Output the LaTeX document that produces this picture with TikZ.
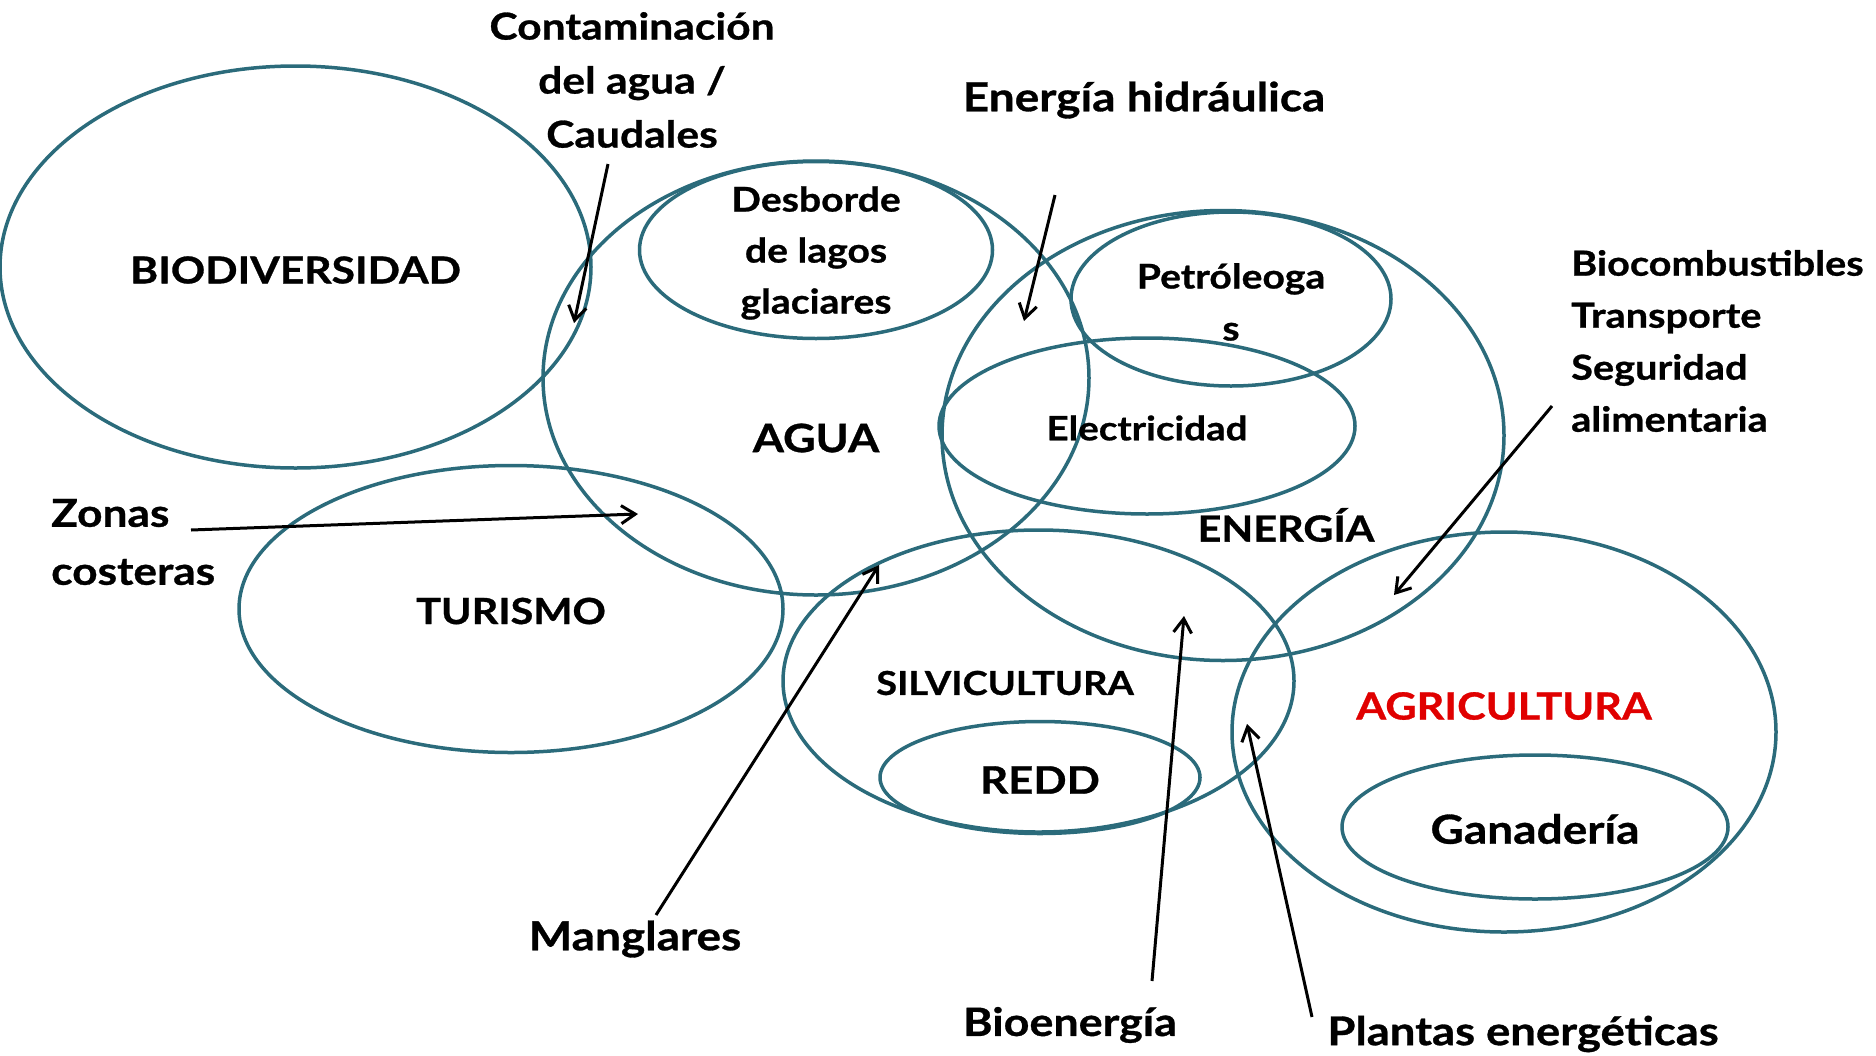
\documentclass[tikz,border=0pt]{standalone}
\usepackage{fontspec}
\setmainfont{Lato}[FakeStretch=1.15,BoldFeatures={FakeBold=0.8}]
\usetikzlibrary{shapes.geometric,arrows.meta}
\definecolor{teal1}{HTML}{2B6B7B}
\definecolor{red1}{HTML}{E00000}
\tikzset{
  ell/.style={draw=teal1,line width=3.5pt,ellipse,inner sep=0pt},
  lbl/.style={font=\bfseries\fontsize{34}{51}\selectfont,inner sep=0pt,align=center},
  big/.style={font=\bfseries\fontsize{36}{54}\selectfont,inner sep=0pt,align=center},
  low/.style={font=\bfseries\fontsize{39}{54}\selectfont,inner sep=0pt,align=center},
  arr/.style={draw=black,line width=3pt,-{Straight Barb[length=14pt,width=18pt,line width=3pt]}}
}
\begin{document}
\begin{tikzpicture}[x=1pt,y=-1pt]
\useasboundingbox (0,0) rectangle (1876,1055);
% ellipses
\node[ell,minimum width=591pt,minimum height=402pt] (bio) at (295.5,267) {};
\node[ell,minimum width=546pt,minimum height=434pt] (agua) at (816,378) {};
\node[ell,minimum width=353pt,minimum height=177pt] (desb) at (816,250) {};
\node[ell,minimum width=544pt,minimum height=287pt] (tur) at (511,609) {};
\node[ell,minimum width=562pt,minimum height=450pt] (ener) at (1223,435.5) {};
\node[ell,minimum width=320pt,minimum height=174pt] (petro) at (1231,299) {};
\node[ell,minimum width=416pt,minimum height=176pt] (elec) at (1147,426) {};
\node[ell,minimum width=511pt,minimum height=302pt] (silv) at (1038.5,681) {};
\node[ell,minimum width=320pt,minimum height=112pt] (redd) at (1040,777.5) {};
\node[ell,minimum width=544pt,minimum height=400pt] (agri) at (1504,732) {};
\node[ell,minimum width=386pt,minimum height=144pt] (gan) at (1535,827) {};
% texts
\node[big,font=\bfseries\fontsize{37}{54}\selectfont] (tbio) at (295.5,270) {BIODIVERSIDAD};
\node[big,font=\bfseries\fontsize{39}{54}\selectfont] (tagua) at (816,438) {AGUA};
\node[big] (ttur) at (511,611) {TURISMO};
\node[big] (tener) at (1286,525) {ENERGÍA};
\node[lbl,font=\bfseries\fontsize{33}{51}\selectfont] (tsilv) at (1005,683) {SILVICULTURA};
\node[big,font=\bfseries\fontsize{38}{54}\selectfont] (tredd) at (1040,780) {REDD};
\node[big,text=red1,font=\bfseries\fontsize{37.5}{54}\selectfont] (tagri) at (1504,706) {AGRICULTURA};
\node[low,font=\bfseries\fontsize{40}{54}\selectfont] (tgan) at (1535,829) {Ganadería};
\node[lbl] (tdesb) at (816,253) {Desborde\\de lagos\\glaciares};
\node[lbl,font=\bfseries\fontsize{34}{52}\selectfont] (tpetro) at (1231,302) {Petróleoga\\s};
\node[lbl,font=\bfseries\fontsize{33.5}{52}\selectfont] (telec) at (1147,428) {Electricidad};
\node[low,font=\bfseries\fontsize{37}{54}\selectfont] (tcont) at (632,80) {Contaminación\\del agua /\\Caudales};
\node[low,font=\bfseries\fontsize{40}{54}\selectfont] (thid) at (1144,100) {Energía hidráulica};
\node[low,align=left,anchor=west,font=\bfseries\fontsize{34.5}{52}\selectfont] (tbioc) at (1571,341) {Biocombustibles\\Transporte\\Seguridad\\alimentaria};
\node[low,align=left,anchor=west,font=\bfseries\fontsize{38.5}{58}\selectfont] (tzon) at (51,542) {Zonas\\costeras};
\node[low,font=\bfseries\fontsize{40}{54}\selectfont] (tman) at (635,939) {Manglares};
\node[low,font=\bfseries\fontsize{39}{54}\selectfont] (tbioe) at (1070,1025) {Bioenergía};
\node[low,font=\bfseries\fontsize{39.5}{54}\selectfont] (tplan) at (1523,1034) {Plantas energéticas};
% arrow coordinates
\coordinate (c1s) at (608,164); \coordinate (c1e) at (574,323);
\coordinate (c2s) at (1055,195); \coordinate (c2e) at (1024,321);
\coordinate (c3s) at (191,530); \coordinate (c3e) at (638,514);
\coordinate (c4s) at (1552,406); \coordinate (c4e) at (1394,595);
\coordinate (c5s) at (656,915); \coordinate (c5e) at (879,565);
\coordinate (c6s) at (1152,981); \coordinate (c6e) at (1184,616);
\coordinate (c7s) at (1312,1017); \coordinate (c7e) at (1247,724);
\draw[arr] (c1s) -- (c1e);
\draw[arr] (c2s) -- (c2e);
\draw[arr] (c3s) -- (c3e);
\draw[arr] (c4s) -- (c4e);
\draw[arr] (c5s) -- (c5e);
\draw[arr] (c6s) -- (c6e);
\draw[arr] (c7s) -- (c7e);
\end{tikzpicture}
\end{document}
